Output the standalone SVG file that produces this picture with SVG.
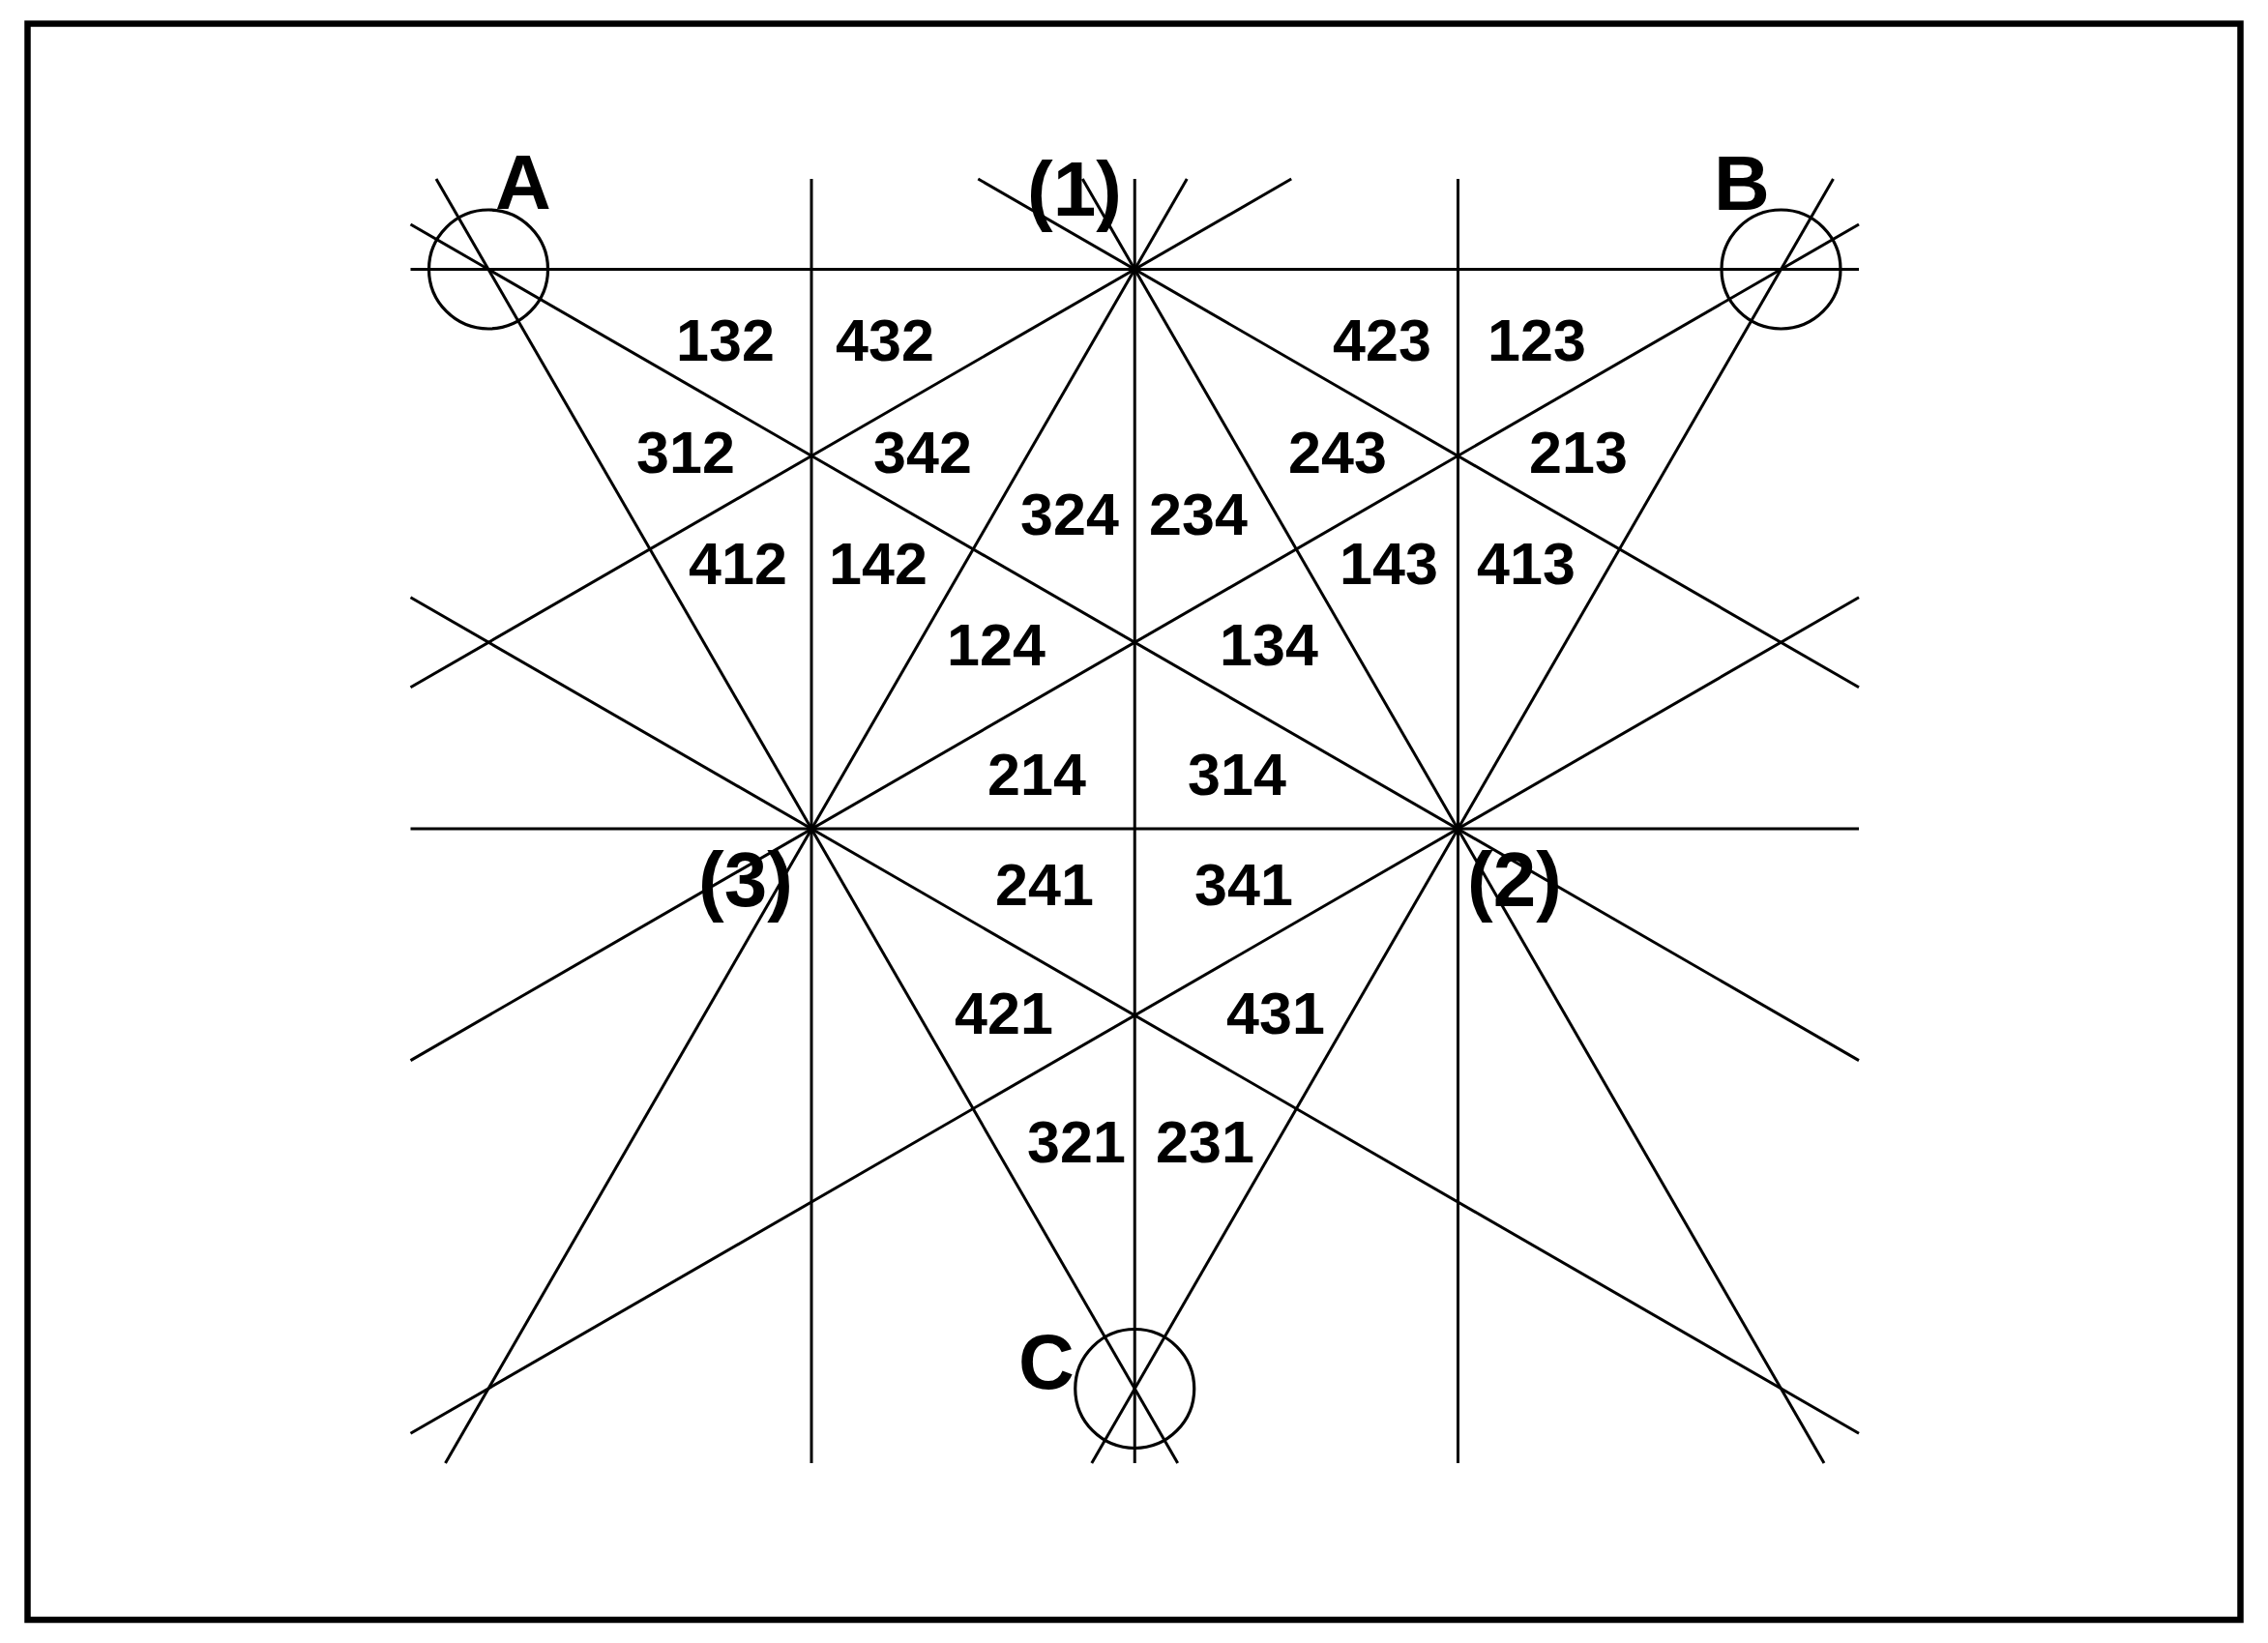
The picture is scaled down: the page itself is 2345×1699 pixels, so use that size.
<svg xmlns="http://www.w3.org/2000/svg" width="2345" height="1699" viewBox="0 0 2345 1699">
<style>
.ln{stroke:#000;stroke-width:3;fill:none}
.ring{stroke:#000;stroke-width:3.2;fill:none}
.n{font-family:"Liberation Sans",Arial,sans-serif;font-weight:bold;font-size:61px;text-anchor:middle;fill:#000}
.big{font-family:"Liberation Sans",Arial,sans-serif;font-weight:bold;font-size:80px;text-anchor:middle;fill:#000}
</style>
<rect x="0" y="0" width="2345" height="1699" fill="#fff"/>
<rect id="frame" x="28.5" y="24.5" width="2288" height="1650.5" fill="none" stroke="#000" stroke-width="6.5"/>
<g id="connectors" class="ln">
<line x1="424.5" y1="278.5" x2="1922" y2="278.5"/>
<line x1="424.5" y1="857" x2="1922" y2="857"/>
<line x1="839" y1="185" x2="839" y2="1513"/>
<line x1="1173.25" y1="185" x2="1173.25" y2="1513"/>
<line x1="1507.5" y1="185" x2="1507.5" y2="1513"/>
<line x1="451" y1="185" x2="1217.7" y2="1513"/>
<line x1="1119.25" y1="185" x2="1886" y2="1513"/>
<line x1="1895.5" y1="185" x2="1128.8" y2="1513"/>
<line x1="1227.25" y1="185" x2="460.5" y2="1513"/>
<line x1="1011.3" y1="185" x2="1922" y2="710.8"/>
<line x1="1335.2" y1="185" x2="424.5" y2="710.8"/>
<line x1="424.5" y1="232" x2="1922" y2="1096.6"/>
<line x1="1922" y1="232" x2="424.5" y2="1096.6"/>
<line x1="424.5" y1="617.7" x2="1922" y2="1482.3"/>
<line x1="1922" y1="617.7" x2="424.5" y2="1482.3"/>
</g>
<g id="node-A"><circle class="ring" cx="505" cy="278.5" r="61.5"/><text class="big" x="541" y="216">A</text></g>
<g id="node-B"><circle class="ring" cx="1841.5" cy="278.5" r="61.5"/><text class="big" x="1801" y="216.5">B</text></g>
<g id="node-C"><circle class="ring" cx="1173.25" cy="1436" r="61.5"/><text class="big" x="1082" y="1436">C</text></g>
<g id="node-1"><text class="big" x="1111" y="223">(1)</text></g>
<g id="node-2"><text class="big" x="1566" y="936.5">(2)</text></g>
<g id="node-3"><text class="big" x="771" y="936.5">(3)</text></g>
<g id="regions">
<text class="n" x="750" y="372.5">132</text>
<text class="n" x="915" y="372.5">432</text>
<text class="n" x="1429" y="372.5">423</text>
<text class="n" x="1589" y="372.5">123</text>
<text class="n" x="709" y="488.5">312</text>
<text class="n" x="954" y="488.5">342</text>
<text class="n" x="1383" y="488.5">243</text>
<text class="n" x="1632" y="488.5">213</text>
<text class="n" x="1106" y="553.3">324</text>
<text class="n" x="1239" y="553.3">234</text>
<text class="n" x="763" y="603.5">412</text>
<text class="n" x="908" y="603.5">142</text>
<text class="n" x="1436" y="603.5">143</text>
<text class="n" x="1578" y="603.5">413</text>
<text class="n" x="1030" y="687.5">124</text>
<text class="n" x="1312" y="687.5">134</text>
<text class="n" x="1072" y="822">214</text>
<text class="n" x="1279" y="822">314</text>
<text class="n" x="1080" y="935.5">241</text>
<text class="n" x="1286" y="935.5">341</text>
<text class="n" x="1038" y="1069">421</text>
<text class="n" x="1319" y="1069">431</text>
<text class="n" x="1113" y="1202">321</text>
<text class="n" x="1246" y="1202">231</text>
</g>
</svg>
